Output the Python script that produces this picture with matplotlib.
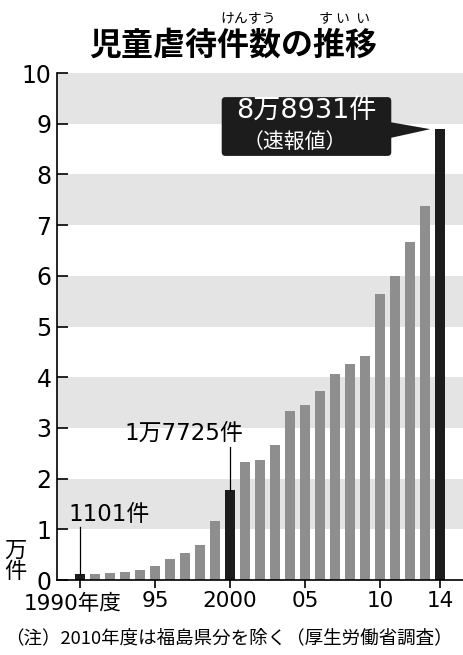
import matplotlib
matplotlib.use("Agg")
import matplotlib.pyplot as plt
from matplotlib.patches import FancyBboxPatch, Polygon

plt.rcParams['font.family'] = ['DejaVu Sans', 'Noto Sans CJK JP']
JP = ['Noto Sans CJK JP', 'DejaVu Sans']

#------------------------------------------- Data -------------------------------------#
years = list(range(1990, 2015))
cases = [0.1101, 0.1171, 0.1372, 0.1611, 0.1961, 0.2722, 0.4102, 0.5352, 0.6932,
         1.1631, 1.7725, 2.3274, 2.3738, 2.6569, 3.3408, 3.4472, 3.7323, 4.0639,
         4.2664, 4.4211, 5.6384, 5.9919, 6.6701, 7.3802, 8.8931]   # 万件
highlight = [1990, 2000, 2014]
xtick_years = [1990, 1995, 2000, 2005, 2010, 2014]
xtick_labels = ["", "95", "2000", "05", "10", "14"]
yticks = list(range(0, 11))

#------------------------------------------- Plot -------------------------------------#
fig = plt.figure(figsize=(4.63, 6.55), dpi=100)
ax = fig.add_axes([0.123, 0.1145, 0.877, 0.774])

# alternating bands
for lo in range(1, 10, 2):
    ax.axhspan(lo, lo + 1, color="#e4e4e4", lw=0, zorder=0)

colors = ["#1c1c1c" if y in highlight else "#8e8e8e" for y in years]
ax.bar(years, cases, width=0.68, color=colors, zorder=2)

ax.set_xlim(1988.47, 2015.53)
ax.set_ylim(0, 10)
for s in ["top", "right"]:
    ax.spines[s].set_visible(False)
ax.spines["left"].set_linewidth(1.2)
ax.spines["bottom"].set_linewidth(1.2)

ax.set_yticks(yticks)
ax.set_yticklabels([str(v) for v in yticks], fontsize=17)
ax.tick_params(axis="y", direction="in", length=8, width=1.2, pad=4)
ax.set_xticks(xtick_years)
ax.set_xticklabels(xtick_labels, fontsize=15.5)
ax.tick_params(axis="x", direction="out", length=6, width=1.2, pad=2)
ax.text(1989.5, -0.27, "1990年度", ha="center", va="top", fontsize=15.5,
        transform=ax.transData, clip_on=False)

# unit label
fig.text(0.033, 0.143, "万\n件", ha="center", va="center", fontsize=16,
         linespacing=0.9, family=JP)

# annotations
ax.plot([1990, 1990], [cases[0], 1.05], color="black", lw=0.9, zorder=3)
ax.text(1989.25, 1.3, "1101件", ha="left", va="center", fontsize=16.5)
ax.plot([2000, 2000], [cases[10], 2.62], color="black", lw=0.9, zorder=3)
ax.text(1996.9, 2.9, "1万7725件", ha="center", va="center", fontsize=16.5)

box = FancyBboxPatch((1999.5, 8.38), 11.2, 1.13,
                     boxstyle="round,pad=0.05,rounding_size=0.25",
                     fc="#1c1c1c", ec="none", zorder=4, mutation_aspect=0.3)
ax.add_patch(box)
ax.add_patch(Polygon([(2010.7, 9.03), (2010.7, 8.72), (2013.35, cases[-1])],
                     closed=True, fc="#1c1c1c", ec="none", zorder=4))
ax.text(2005.1, 9.24, "8万8931件", ha="center", va="center", fontsize=19.5,
        color="white", zorder=5)
ax.text(2004.3, 8.64, "（速報値）", ha="center", va="center", fontsize=15,
        color="white", zorder=5, family=JP)

# title
fig.text(0.503, 0.931, "児童虐待件数の推移", ha="center", va="center",
         fontsize=23, fontweight="bold", family=JP)
fig.text(0.535, 0.972, "けんすう", ha="center", va="center", fontsize=10, family=JP)
fig.text(0.745, 0.972, "す い  い", ha="center", va="center", fontsize=10, family=JP)

# note
fig.text(0.495, 0.025, "（注）2010年度は福島県分を除く（厚生労働省調査）",
         ha="center", va="center", fontsize=13.3, family=JP)

fig.savefig("out.png", dpi=100)
